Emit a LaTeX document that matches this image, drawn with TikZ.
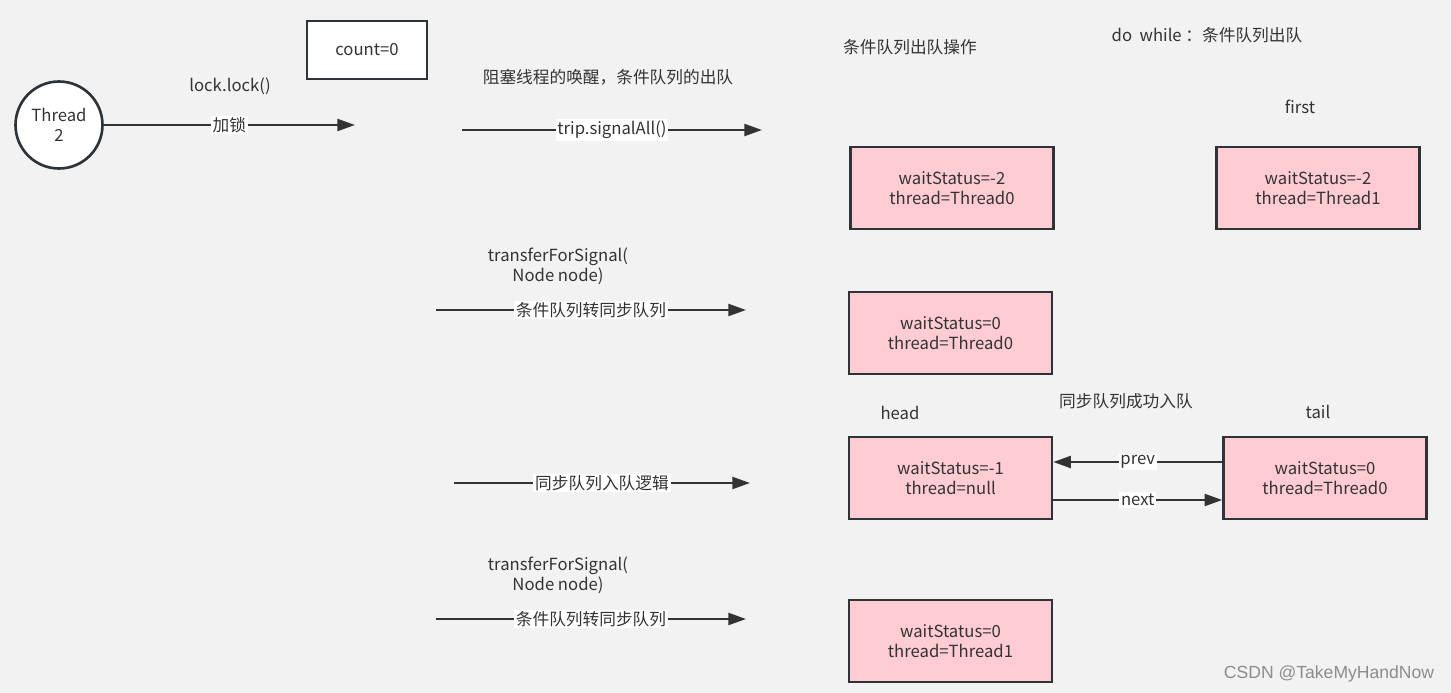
\documentclass[tikz,border=0pt]{standalone}
\usepackage{fontspec}
\setmainfont{Noto Sans CJK SC}
\newfontfamily\wmfont{Liberation Sans}
\usetikzlibrary{arrows.meta,positioning}
\definecolor{bgray}{HTML}{F2F2F2}
\definecolor{edgec}{HTML}{2E3338}
\definecolor{txtc}{HTML}{333333}
\definecolor{pinkc}{HTML}{FFCCD3}
\tikzset{
  base/.style={font=\fontsize{9.5}{11.3}\selectfont, text=txtc},
  qnode/.style={base, draw=edgec, line width=1.5pt, fill=pinkc, minimum width=4.06cm, minimum height=1.64cm, align=center, inner sep=0pt},
  countbox/.style={base, draw=edgec, line width=1.5pt, fill=white, minimum width=2.4cm, minimum height=1.16cm, inner sep=0pt},
  threadc/.style={base, circle, draw=edgec, line width=1.5pt, fill=white, minimum size=1.74cm, align=center, inner sep=0pt},
  flow/.style={draw=txtc, line width=1.3pt, -{Triangle[length=10pt, width=6.8pt]}},
  tag/.style={base, fill=white, inner sep=1pt},
  note/.style={base, align=center}
}

\begin{document}
\begin{tikzpicture}[x=0.02cm, y=-0.02cm]
\fill[bgray] (0,0) rectangle (1451,693);

% thread and lock
\node[threadc] (t2) at (59,125) {Thread\\2};
\node[countbox] (cnt) at (367,50) {count=0};
\node[note] (lk) at (230,86) {lock.lock()};
\coordinate (lke) at (355,125);
\draw[flow] (t2) -- node[tag] {加锁} (lke);

% condition queue
\node[note] (wk) at (608,77) {阻塞线程的唤醒，条件队列的出队};
\coordinate (sas) at (462,130); \coordinate (sae) at (762,130);
\draw[flow] (sas) -- node[tag] {trip.signalAll()} (sae);
\node[note] (cqop) at (910,47) {条件队列出队操作};
\node[note] (dw) at (1207,35) {do\ \ while\ ：条件队列出队};
\node[qnode] (q1) at (952,188) {waitStatus=-2\\thread=Thread0};
\node[qnode] (q2) at (1318,188) {waitStatus=-2\\thread=Thread1};
\node[note] (fst) at (1300,107) {first};

% transfer 1
\node[note] (tf1) at (558,266) {transferForSignal(\\Node node)};
\coordinate (tas) at (436,310); \coordinate (tae) at (746,310);
\draw[flow] (tas) -- node[tag] {条件队列转同步队列} (tae);
\node[qnode] (q3) at (950.5,333) {waitStatus=0\\thread=Thread0};

% sync queue
\node[note] (hd) at (900,413) {head};
\node[note] (ok) at (1126,401) {同步队列成功入队};
\node[note] (tl) at (1318,412) {tail};
\node[qnode] (q4) at (950.5,478) {waitStatus=-1\\thread=null};
\node[qnode] (q5) at (1325,478) {waitStatus=0\\thread=Thread0};
\draw[flow] ([yshift=0.32cm]q5.west) -- node[tag] {prev} ([yshift=0.32cm]q4.east);
\draw[flow] ([yshift=-0.44cm]q4.east) -- node[tag] {next} ([yshift=-0.44cm]q5.west);
\coordinate (eqs) at (454,483); \coordinate (eqe) at (750,483);
\draw[flow] (eqs) -- node[tag] {同步队列入队逻辑} (eqe);

% transfer 2
\node[note] (tf2) at (558,575) {transferForSignal(\\Node node)};
\coordinate (tbs) at (436,619); \coordinate (tbe) at (746,619);
\draw[flow] (tbs) -- node[tag] {条件队列转同步队列} (tbe);
\node[qnode] (q6) at (950.5,641) {waitStatus=0\\thread=Thread1};

\node[font=\wmfont\fontsize{10}{12}\selectfont, text=black!45] (wm) at (1329,674) {CSDN @TakeMyHandNow};
\end{tikzpicture}
\end{document}
